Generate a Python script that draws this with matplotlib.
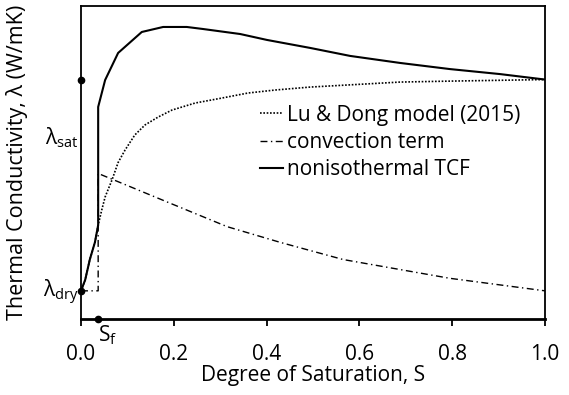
import matplotlib
matplotlib.use('Agg')
import matplotlib.pyplot as plt
import matplotlib.transforms as mtransforms

plt.rcParams['font.family'] = ['Open Sans', 'DejaVu Sans']
plt.rcParams['mathtext.fontset'] = 'custom'
plt.rcParams['mathtext.rm'] = 'Open Sans'
plt.rcParams['mathtext.it'] = 'Open Sans'

# values (lambda in arbitrary units, ylim 0..2)
lam_dry = 0.18
lam_sat = 1.53
s_f = 0.037

s_lu = [0, 0.009, 0.019, 0.03, 0.037, 0.045, 0.052, 0.067, 0.08, 0.095,
        0.116, 0.138, 0.166, 0.196, 0.246, 0.304, 0.36, 0.418, 0.494,
        0.688, 0.795, 1.0]
lam_lu = [0.18, 0.25, 0.38, 0.49, 0.60, 0.70, 0.78, 0.89, 1.00, 1.08,
          1.176, 1.24, 1.29, 1.335, 1.38, 1.412, 1.444, 1.463, 1.482,
          1.514, 1.52, 1.53]

s_conv = [0, 0.037, 0.037, 0.192, 0.315, 0.429, 0.565, 0.795, 1.0]
lam_conv = [0.18, 0.18, 0.93, 0.74, 0.59, 0.49, 0.38, 0.26, 0.18]

s_tcf = [0, 0.009, 0.019, 0.03, 0.037, 0.037, 0.052, 0.08, 0.131, 0.177,
         0.228, 0.263, 0.343, 0.401, 0.494, 0.58, 0.688, 0.795, 0.903, 1.0]
lam_tcf = [0.18, 0.25, 0.38, 0.49, 0.60, 1.355, 1.527, 1.70, 1.834, 1.866,
           1.866, 1.853, 1.821, 1.783, 1.732, 1.681, 1.636, 1.597, 1.565, 1.53]

x_ticks = [0.0, 0.2, 0.4, 0.6, 0.8, 1.0]

fig = plt.figure(figsize=(5.69, 3.95), dpi=100)
ax = fig.add_axes([81/569, 76/395, 464/569, 313/395])

ax.plot(s_lu, lam_lu, color='black', lw=1.2, linestyle=(0, (1, 1)),
        label='Lu & Dong model (2015)')
ax.plot(s_conv, lam_conv, color='black', lw=1.0, linestyle=(0, (5, 2.5, 1, 2.5)),
        label='convection term')
ax.plot(s_tcf, lam_tcf, color='black', lw=1.5, label='nonisothermal TCF')

# reference points on the axes
ax.plot([0, 0], [lam_sat, lam_dry], 'o', color='black', ms=4.5, clip_on=False, zorder=5)
ax.plot([s_f], [0], 'o', color='black', ms=4.5, clip_on=False, zorder=5)

ax.set_xlim(0, 1.0)
ax.set_ylim(0, 2.0)
ax.set_xticks(x_ticks)
ax.set_xticklabels(['%.1f' % t for t in x_ticks])
ax.set_yticks([])
ax.tick_params(axis='x', direction='out', length=5, width=1.3, pad=13, labelsize=15)
for side in ['left', 'right', 'top']:
    ax.spines[side].set_linewidth(1.3)
ax.spines['bottom'].set_linewidth(2)

ax.set_xlabel('Degree of Saturation, S', fontsize=15, labelpad=0)
ax.set_ylabel('Thermal Conductivity, λ (W/mK)', fontsize=15.5)
ax.yaxis.set_label_coords(-0.114, 0.5)

trans = mtransforms.blended_transform_factory(ax.transAxes, ax.transData)
ax.text(-0.006, 1.157, r'λ$_\mathrm{sat}$', transform=trans, ha='right', va='center', fontsize=15)
ax.text(-0.006, 0.17, r'λ$_\mathrm{dry}$', transform=trans, ha='right', va='center', fontsize=15)
ax.text(s_f, -0.03, r'S$_\mathrm{f}$', ha='left', va='top', fontsize=15)

ax.legend(loc='upper left', bbox_to_anchor=(0.386, 0.685), frameon=False,
          fontsize=15, handlelength=1.1, handletextpad=0.2, labelspacing=0.3,
          borderpad=0, borderaxespad=0)

fig.savefig('out.png', dpi=100)
